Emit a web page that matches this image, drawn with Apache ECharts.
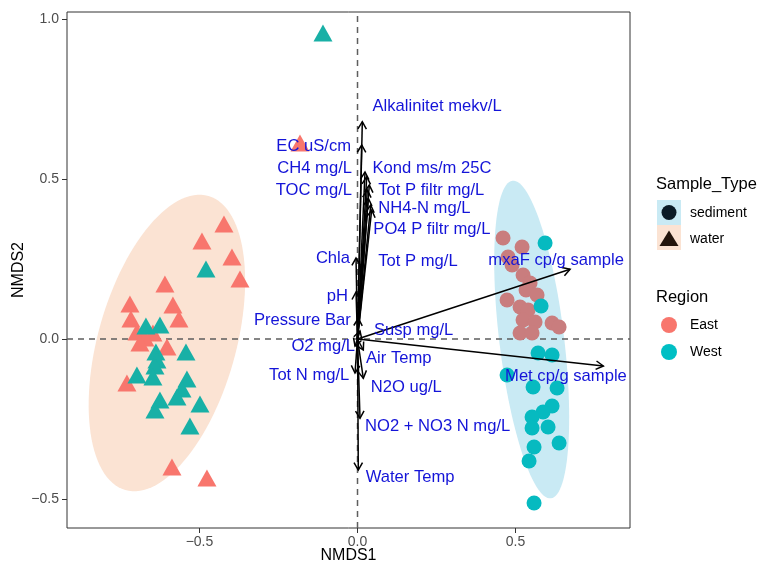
<!DOCTYPE html>
<html><head><meta charset="utf-8">
<script src="https://cdn.jsdelivr.net/npm/echarts@6/dist/echarts.min.js"></script>
<style>html,body{margin:0;padding:0;background:#fff}#c{width:759px;height:564px}</style>
</head><body><div id="c"></div>
<script>
// ---- data: NMDS site scores ----
const waterEastX = [-0.4225,-0.4921,-0.3972,-0.3718,-0.6092,-0.7199,-0.5839,-0.7168,-0.5649,-0.6978,-0.6472,-0.6725,-0.6883,-0.6028,-0.7294,-0.5870,-0.4763,-0.1820];
const waterEastY = [0.3594,0.3063,0.2563,0.1875,0.1719,0.1094,0.1063,0.0625,0.0625,0.0219,0.0188,0.0031,-0.0125,-0.0250,-0.1375,-0.4000,-0.4344,0.6125];
const waterWestX = [-0.1092,-0.4794,-0.6693,-0.6250,-0.6377,-0.5427,-0.6345,-0.6408,-0.6978,-0.6472,-0.5396,-0.5554,-0.5712,-0.6250,-0.4984,-0.6408,-0.5301];
const waterWestY = [0.9563,0.2188,0.0406,0.0438,-0.0406,-0.0406,-0.0656,-0.0844,-0.1125,-0.1188,-0.1250,-0.1563,-0.1813,-0.1906,-0.2031,-0.2219,-0.2719];
const sedEastX = [0.4604,0.5206,0.4763,0.4889,0.5237,0.5459,0.5332,0.5680,0.4731,0.5142,0.5396,0.5237,0.5617,0.6155,0.6377,0.5142,0.5522];
const sedEastY = [0.3156,0.2875,0.2563,0.2313,0.2000,0.1750,0.1531,0.1375,0.1219,0.1000,0.0906,0.0594,0.0531,0.0500,0.0375,0.0188,0.0188];
const sedWestX = [0.5934,0.5807,0.5712,0.6155,0.4731,0.5554,0.6313,0.6155,0.5870,0.5522,0.6028,0.5522,0.6377,0.5585,0.5427,0.5585];
const sedWestY = [0.3000,0.1031,-0.0438,-0.0500,-0.1125,-0.1500,-0.1531,-0.2094,-0.2281,-0.2438,-0.2750,-0.2781,-0.3250,-0.3375,-0.3813,-0.5125];

// ---- environmental vectors ----
const vecNames = ['Alkalinitet mekv/L','EC uS/cm','Kond ms/m 25C','CH4 mg/L','Tot P filtr mg/L','TOC mg/L','PO4 P filtr mg/L','NH4-N mg/L','Tot P mg/L','Chla','pH','Pressure Bar','Susp mg/L','O2 mg/L','Air Temp','Tot N mg/L','N2O ug/L','NO2 + NO3 N mg/L','Water Temp','mxaF cp/g sample','Met cp/g sample'];
const vecX = [0.0152,0.0133,0.0237,0.0291,0.0373,0.0310,0.0342,0.0418,0.0449,-0.0047,-0.0047,0.0025,0.0079,-0.0079,0.0184,-0.0079,0.0184,0.0079,0.0025,0.6725,0.7778];
const vecY = [0.6791,0.6063,0.5219,0.5072,0.4813,0.4656,0.4397,0.4188,0.4031,0.2531,0.1469,0.0647,0.0250,-0.0219,-0.0344,-0.1063,-0.1228,-0.2478,-0.4094,0.2178,-0.0844];
// text anchor of each vector label (data units) and its side
const labelX = [0.0475,-0.0206,0.0475,-0.0174,0.0658,-0.0174,0.0500,0.0658,0.0658,-0.0237,-0.0301,-0.0215,0.0522,-0.0079,0.0269,-0.0259,0.0418,0.0237,0.0259,0.4139,0.4668];
const labelY = [0.7266,0.6010,0.5334,0.5344,0.4656,0.4634,0.3428,0.4084,0.2416,0.2522,0.1322,0.0594,0.0281,-0.0219,-0.0603,-0.1125,-0.1509,-0.2741,-0.4322,0.2469,-0.1178];
const labelSide = ['left','right','left','right','left','right','left','left','left','right','right','right','left','right','left','right','left','left','left','left','left'];

// ---- 95% ellipses: center x, center y, semi-major, semi-minor, tilt (deg from vertical) ----
const waterEllipse = [-0.603,-0.0125,0.478,0.218,16];
const sedimentEllipse = [0.551,-0.0016,0.500,0.1025,-7];

const xTicks = [-0.5,0,0.5];
const yTicks = [-0.5,0,0.5,1.0];
const xMin=-0.919, xMax=0.862, yMin=-0.5906, yMax=1.0219;

const FONT = 'Liberation Sans, Arial, Helvetica, sans-serif';
const EAST='#F8766D', WEST='#00BFC4';
const zip=(a,b)=>a.map((v,i)=>[v,b[i]]);
const fmt=v=>(v<0?'\u2212':'')+Math.abs(v).toFixed(1);

function ellipseSeries(par, fill){
  return {type:'custom', coordinateSystem:'cartesian2d', z:1, silent:true,
    data:[[par[0],par[1]]],
    renderItem:(p,api)=>{
      const th=par[4]*Math.PI/180, pts=[];
      for(let i=0;i<120;i++){
        const t=i/120*2*Math.PI;
        const x=par[0]+par[2]*Math.cos(t)*Math.sin(th)+par[3]*Math.sin(t)*Math.cos(th);
        const y=par[1]+par[2]*Math.cos(t)*Math.cos(th)-par[3]*Math.sin(t)*Math.sin(th);
        pts.push(api.coord([x,y]));
      }
      return {type:'polygon', shape:{points:pts}, style:{fill:fill}};
    }};
}

const chart = echarts.init(document.getElementById('c'), null, {renderer:'canvas'});
chart.setOption({
  animation:false,
  backgroundColor:'#fff',
  grid:{left:67,right:129,top:12,bottom:36,show:true,borderColor:'#333',borderWidth:1,backgroundColor:'transparent',containLabel:false,outerBoundsMode:'none'},
  xAxis:{type:'value',min:xMin,max:xMax,splitLine:{show:false},
    axisLine:{show:false,onZero:false},
    axisTick:{show:true,customValues:xTicks,length:5,lineStyle:{color:'#333'}},
    axisLabel:{customValues:xTicks,formatter:fmt,fontSize:14,color:'#4D4D4D',fontFamily:FONT,margin:7}},
  yAxis:{type:'value',min:yMin,max:yMax,splitLine:{show:false},
    axisLine:{show:false,onZero:false},
    axisTick:{show:true,customValues:yTicks,length:5,lineStyle:{color:'#333'}},
    axisLabel:{customValues:yTicks,formatter:fmt,fontSize:14,color:'#4D4D4D',fontFamily:FONT,margin:8}},
  series:[
    ellipseSeries(sedimentEllipse,'#C9EAF4'),
    ellipseSeries(waterEllipse,'#FBE3D3'),
    {type:'custom',coordinateSystem:'cartesian2d',z:2,silent:true,data:[[0,0]],
      renderItem:(p,api)=>{
        const a=api.coord([0,yMin]),b=api.coord([0,yMax]),c=api.coord([xMin,0]),d=api.coord([xMax,0]);
        const st={stroke:'#5E5E5E',lineWidth:1.5,lineDash:[6,5]};
        return {type:'group',children:[
          {type:'line',shape:{x1:a[0],y1:a[1],x2:b[0],y2:b[1]},style:st},
          {type:'line',shape:{x1:c[0],y1:c[1],x2:d[0],y2:d[1]},style:st}]};
      }},
    {type:'scatter',z:3,silent:true,symbol:'triangle',symbolSize:[19,17],itemStyle:{color:EAST,opacity:1},data:zip(waterEastX,waterEastY)},
    {type:'scatter',z:3,silent:true,symbol:'triangle',symbolSize:[19,17],itemStyle:{color:'#18B0A6',opacity:1},data:zip(waterWestX,waterWestY)},
    {type:'scatter',z:3,silent:true,symbol:'circle',symbolSize:15,itemStyle:{color:'#C97D7E',opacity:1},data:zip(sedEastX,sedEastY)},
    {type:'scatter',z:3,silent:true,symbol:'circle',symbolSize:15,itemStyle:{color:'#06BAC0',opacity:1},data:zip(sedWestX,sedWestY)},
    {type:'custom',coordinateSystem:'cartesian2d',z:4,silent:true,data:zip(vecX,vecY),
      renderItem:(p,api)=>{
        const o=api.coord([0,0]), e=api.coord([api.value(0),api.value(1)]);
        const ang=Math.atan2(e[1]-o[1],e[0]-o[0]), L=8.5, h=Math.PI/6;
        const h1=[e[0]-L*Math.cos(ang-h),e[1]-L*Math.sin(ang-h)];
        const h2=[e[0]-L*Math.cos(ang+h),e[1]-L*Math.sin(ang+h)];
        const st={stroke:'#000',lineWidth:1.5,fill:null};
        return {type:'group',children:[
          {type:'line',shape:{x1:o[0],y1:o[1],x2:e[0],y2:e[1]},style:st},
          {type:'polyline',shape:{points:[h1,e,h2]},style:st}]};
      }},
    {type:'custom',coordinateSystem:'cartesian2d',z:5,silent:true,
      data:labelX.map((v,i)=>[v,labelY[i],i]),
      renderItem:(p,api)=>{
        const i=api.value(2), q=api.coord([api.value(0),api.value(1)]);
        return {type:'text',x:q[0],y:q[1],style:{text:vecNames[i],fill:'#1414D8',fontSize:16.6,fontFamily:FONT,align:labelSide[i],verticalAlign:'middle'}};
      }}
  ],
  graphic:[
    {type:'text',x:348.5,y:556,style:{text:'NMDS1',fontSize:16,fontFamily:FONT,fill:'#000',align:'center',verticalAlign:'middle'}},
    {type:'text',x:19,y:270,rotation:Math.PI/2,style:{text:'NMDS2',fontSize:16,fontFamily:FONT,fill:'#000',align:'center',verticalAlign:'middle'}},
    {type:'text',x:656,y:184,style:{text:'Sample_Type',fontSize:16.5,fontFamily:FONT,fill:'#000',verticalAlign:'middle'}},
    {type:'rect',shape:{x:657,y:200,width:24,height:25},style:{fill:'#C9EAF4'}},
    {type:'rect',shape:{x:657,y:225,width:24,height:25},style:{fill:'#FBE3D3'}},
    {type:'circle',shape:{cx:669,cy:212.5,r:7.5},style:{fill:'#0B1B26'}},
    {type:'polygon',shape:{points:[[669,230.5],[678.5,246],[659.5,246]]},style:{fill:'#23150C'}},
    {type:'text',x:690,y:213,style:{text:'sediment',fontSize:14,fontFamily:FONT,fill:'#000',verticalAlign:'middle'}},
    {type:'text',x:690,y:239,style:{text:'water',fontSize:14,fontFamily:FONT,fill:'#000',verticalAlign:'middle'}},
    {type:'text',x:656,y:297,style:{text:'Region',fontSize:16.5,fontFamily:FONT,fill:'#000',verticalAlign:'middle'}},
    {type:'circle',shape:{cx:669,cy:325,r:8},style:{fill:EAST}},
    {type:'circle',shape:{cx:669,cy:352,r:8},style:{fill:WEST}},
    {type:'text',x:690,y:325,style:{text:'East',fontSize:14,fontFamily:FONT,fill:'#000',verticalAlign:'middle'}},
    {type:'text',x:690,y:352,style:{text:'West',fontSize:14,fontFamily:FONT,fill:'#000',verticalAlign:'middle'}}
  ]
});
</script></body></html>
